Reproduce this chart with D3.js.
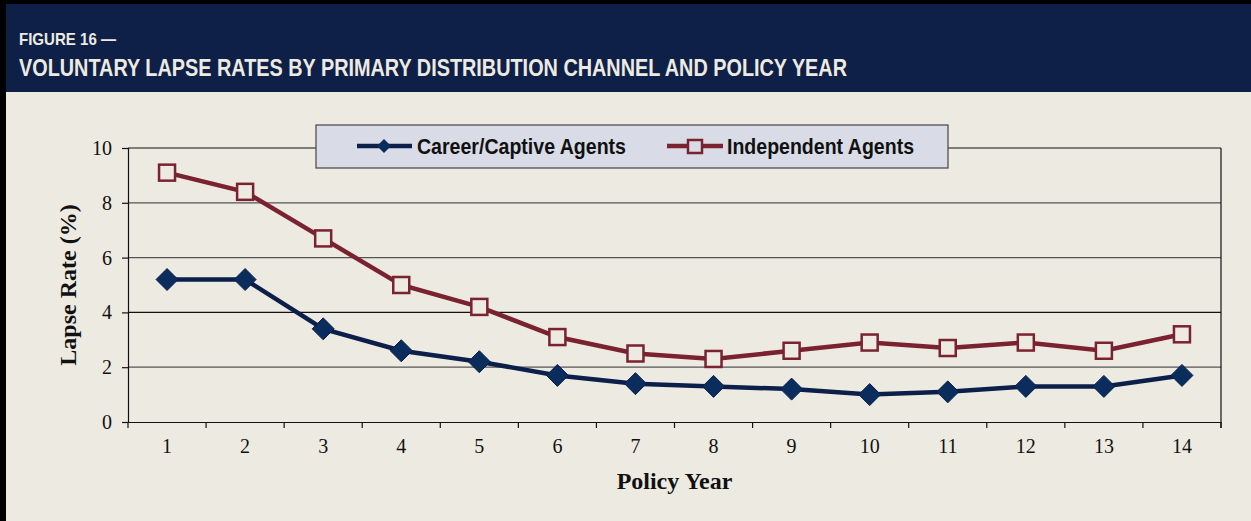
<!DOCTYPE html>
<html>
<head>
<meta charset="UTF-8">
<style>
    body { margin: 0; background: #000; }
    svg { display: block; }
    .tick text { font-family: "Liberation Serif", "Times New Roman", serif; font-size: 20px; fill: #111; }
</style>
</head>
<body>
<script src="https://d3js.org/d3.v7.min.js"></script>
<script>
    // chart data
    var years = [1, 2, 3, 4, 5, 6, 7, 8, 9, 10, 11, 12, 13, 14];
    var careerAgents = [5.2, 5.2, 3.4, 2.6, 2.2, 1.7, 1.4, 1.3, 1.2, 1.0, 1.1, 1.3, 1.3, 1.7];
    var independentAgents = [9.1, 8.4, 6.7, 5.0, 4.2, 3.1, 2.5, 2.3, 2.6, 2.9, 2.7, 2.9, 2.6, 3.2];
    var yTicks = [0, 2, 4, 6, 8, 10];
    var seriesNames = ["Career/Captive Agents", "Independent Agents"];

    var width = 1251, height = 521;
    var margin = {left: 128, right: 30, top: 148, bottom: 99};
    var narrow = "Liberation Sans Narrow, Arial Narrow, Liberation Sans, sans-serif";
    var serif = "Liberation Serif, Times New Roman, serif";

    var svg = d3.select("body").append("svg")
        .attr("width", width)
        .attr("height", height);

    // background + header band
    svg.append("rect").attr("width", width).attr("height", height).attr("fill", "#000");
    svg.append("rect").attr("x", 6).attr("y", 4).attr("width", width - 6).attr("height", height - 4)
        .attr("fill", "#EDEBE1");
    svg.append("rect").attr("x", 6).attr("y", 4).attr("width", width - 6).attr("height", 88)
        .attr("fill", "#0F2048");

    svg.append("text")
        .attr("x", 19).attr("y", 45)
        .attr("font-family", narrow)
        .attr("font-weight", "bold")
        .attr("font-size", 17)
        .attr("fill", "#EDEBE1")
        .attr("textLength", 97)
        .attr("lengthAdjust", "spacingAndGlyphs")
        .text("FIGURE 16 —");
    svg.append("text")
        .attr("x", 19).attr("y", 76)
        .attr("font-family", narrow)
        .attr("font-weight", "bold")
        .attr("font-size", 23)
        .attr("fill", "#EDEBE1")
        .attr("textLength", 828)
        .attr("lengthAdjust", "spacingAndGlyphs")
        .text("VOLUNTARY LAPSE RATES BY PRIMARY DISTRIBUTION CHANNEL AND POLICY YEAR");

    var x = d3.scaleBand()
        .domain(years)
        .range([margin.left, width - margin.right]);
    var y = d3.scaleLinear()
        .domain([0, 10])
        .range([height - margin.bottom, margin.top]);

    var plotRight = x.range()[1];

    // gridlines
    svg.append("g")
        .selectAll("line")
        .data(yTicks.filter(function (d) { return d > 0; }))
        .enter().append("line")
        .attr("x1", margin.left).attr("x2", plotRight)
        .attr("y1", function (d) { return y(d); })
        .attr("y2", function (d) { return y(d); })
        .attr("stroke", function (d) { return d === 10 || d === 4 ? "#111" : "#555"; })
        .attr("stroke-width", 1.2);

    // right border of plot
    svg.append("line")
        .attr("x1", plotRight).attr("x2", plotRight)
        .attr("y1", y(10)).attr("y2", y(0) + 6)
        .attr("stroke", "#111").attr("stroke-width", 1.2);

    // axes
    var xAxis = svg.append("g")
        .attr("transform", "translate(0," + y(0) + ")")
        .call(d3.axisBottom(x).tickSize(0).tickPadding(17));
    xAxis.select(".domain").attr("stroke", "#111").attr("stroke-width", 1.2);
    xAxis.selectAll("line.bound")
        .data(years.concat([15]))
        .enter().append("line")
        .attr("class", "bound")
        .attr("x1", function (d, i) { return margin.left + i * x.step(); })
        .attr("x2", function (d, i) { return margin.left + i * x.step(); })
        .attr("y1", 0).attr("y2", 6)
        .attr("stroke", "#111").attr("stroke-width", 1.2);

    var yAxis = svg.append("g")
        .attr("transform", "translate(" + margin.left + ",0)")
        .call(d3.axisLeft(y).tickValues(yTicks).tickSize(6).tickPadding(10));
    yAxis.select(".domain").attr("stroke", "#111").attr("stroke-width", 1.2);
    yAxis.selectAll(".tick line").attr("stroke", "#111").attr("stroke-width", 1.2);

    // axis titles
    svg.append("text")
        .attr("transform", "translate(76," + ((y(0) + y(10)) / 2) + ") rotate(-90)")
        .attr("text-anchor", "middle")
        .attr("font-family", serif)
        .attr("font-weight", "bold")
        .attr("font-size", 24)
        .attr("fill", "#111")
        .text("Lapse Rate (%)");
    svg.append("text")
        .attr("x", (margin.left + plotRight) / 2)
        .attr("y", 489)
        .attr("text-anchor", "middle")
        .attr("font-family", serif)
        .attr("font-weight", "bold")
        .attr("font-size", 24)
        .attr("fill", "#111")
        .text("Policy Year");

    var line = d3.line()
        .x(function (d, i) { return x(years[i]) + x.bandwidth() / 2; })
        .y(function (d) { return y(d); });

    // independent agents
    svg.append("path")
        .datum(independentAgents)
        .attr("d", line)
        .attr("fill", "none")
        .attr("stroke", "#7A2230")
        .attr("stroke-width", 4.5);
    svg.selectAll(".sq")
        .data(independentAgents)
        .enter().append("rect")
        .attr("class", "sq")
        .attr("x", function (d, i) { return x(years[i]) + x.bandwidth() / 2 - 8; })
        .attr("y", function (d) { return y(d) - 8; })
        .attr("width", 16).attr("height", 16)
        .attr("fill", "#EDEBE1")
        .attr("stroke", "#7A2230")
        .attr("stroke-width", 2.5);

    // career agents
    svg.append("path")
        .datum(careerAgents)
        .attr("d", line)
        .attr("fill", "none")
        .attr("stroke", "#0C1F4A")
        .attr("stroke-width", 4.5);
    svg.selectAll(".dm")
        .data(careerAgents)
        .enter().append("path")
        .attr("class", "dm")
        .attr("transform", function (d, i) {
            return "translate(" + (x(years[i]) + x.bandwidth() / 2) + "," + y(d) + ")";
        })
        .attr("d", "M0,-11 L11,0 L0,11 L-11,0 Z")
        .attr("fill", "#0B2D5E")
        .attr("stroke", "#0C1F4A")
        .attr("stroke-width", 1);

    // legend
    var legend = svg.append("g").attr("transform", "translate(316,125)");
    legend.append("rect")
        .attr("width", 632).attr("height", 43)
        .attr("fill", "#D9DCE7")
        .attr("stroke", "#444").attr("stroke-width", 1.2);

    legend.append("line")
        .attr("x1", 41).attr("x2", 96).attr("y1", 21).attr("y2", 21)
        .attr("stroke", "#0C1F4A").attr("stroke-width", 4.5);
    legend.append("path")
        .attr("transform", "translate(68,21)")
        .attr("d", "M0,-7 L7,0 L0,7 L-7,0 Z")
        .attr("fill", "#0B2D5E");
    legend.append("line")
        .attr("x1", 351).attr("x2", 407).attr("y1", 21).attr("y2", 21)
        .attr("stroke", "#7A2230").attr("stroke-width", 4.5);
    legend.append("rect")
        .attr("x", 372).attr("y", 15).attr("width", 14).attr("height", 13)
        .attr("fill", "#D9DCE7")
        .attr("stroke", "#7A2230").attr("stroke-width", 2.5);

    legend.selectAll(".lt")
        .data(seriesNames)
        .enter().append("text")
        .attr("class", "lt")
        .attr("x", function (d, i) { return i === 0 ? 101 : 411; })
        .attr("y", 29)
        .attr("font-family", narrow)
        .attr("font-weight", "bold")
        .attr("font-size", 22)
        .attr("fill", "#111")
        .attr("textLength", function (d, i) { return i === 0 ? 209 : 187; })
        .attr("lengthAdjust", "spacingAndGlyphs")
        .text(function (d) { return d; });
</script>
</body>
</html>
